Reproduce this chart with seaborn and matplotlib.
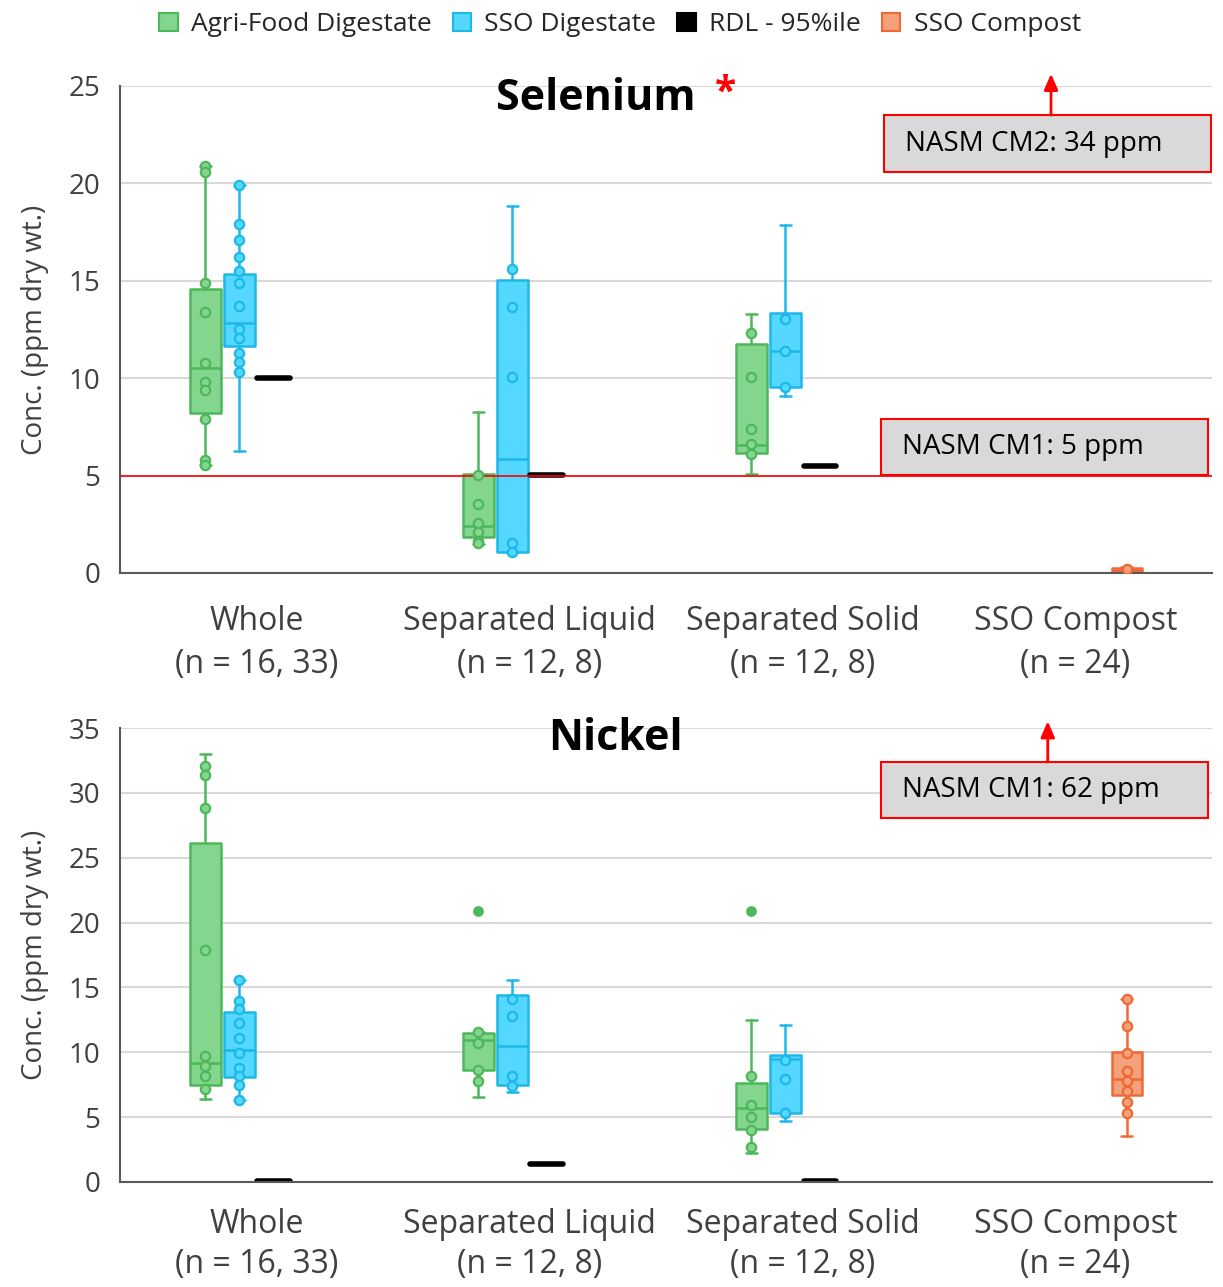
import numpy as np
import pandas as pd
import matplotlib
matplotlib.use("Agg")
import matplotlib.pyplot as plt
from matplotlib.patches import Patch, Rectangle
import seaborn as sns

categories = ["Whole\n(n = 16, 33)", "Separated Liquid\n(n = 12, 8)",
              "Separated Solid\n(n = 12, 8)", "SSO Compost\n(n = 24)"]
series = ["Agri-Food Digestate", "SSO Digestate", "RDL - 95%ile", "SSO Compost"]
fills = ["#84d68e", "#55d8ff", "#000000", "#f4a07b"]
edges = ["#4cb85a", "#1cb8e8", "#000000", "#ee6a35"]

# box stats per category: (whisker low, q1, median, q3, whisker high)
se_agri_box = [(5.55, 8.2, 10.5, 14.6, 20.9), (1.49, 1.87, 2.41, 5.07, 8.25),
               (5.07, 6.14, 6.57, 11.74, 13.28), None]
se_sso_box = [(6.26, 11.63, 12.85, 15.35, 19.9), (1.09, 1.09, 5.84, 15.04, 18.86),
              (9.1, 9.53, 11.4, 13.36, 17.88), None]
se_rdl = [10.0, 5.05, 5.5, None]
se_comp_box = [None, None, None, (0.05, 0.05, 0.15, 0.25, 0.3)]

se_agri_pts = [[20.9, 20.6, 14.9, 13.4, 10.8, 9.8, 9.4, 7.9, 5.8, 5.55],
               [5.03, 3.54, 2.55, 2.12, 1.66, 1.55],
               [12.34, 10.04, 7.41, 6.62, 6.09], []]
se_sso_pts = [[19.9, 17.9, 17.1, 16.2, 15.5, 14.9, 13.7, 12.5, 12.05, 11.3, 10.85, 10.33],
              [15.6, 13.67, 10.04, 1.56, 1.09],
              [13.05, 11.4, 9.56], []]
se_comp_pts = [[], [], [], [0.2]]

ni_agri_box = [(6.37, 7.48, 9.15, 26.1, 33.0), (6.53, 8.63, 10.95, 11.46, 11.6),
               (2.21, 4.07, 5.68, 7.67, 12.47), None]
ni_sso_box = [(6.32, 8.12, 10.14, 13.08, 15.6), (6.9, 7.48, 10.49, 14.42, 15.56),
              (4.73, 5.35, 9.46, 9.79, 12.1), None]
ni_rdl = [0.1, 1.4, 0.1, None]
ni_comp_box = [None, None, None, (3.58, 6.7, 7.93, 10.0, 14.1)]

ni_agri_pts = [[32.1, 31.4, 28.86, 17.9, 9.71, 8.94, 8.17, 7.14],
               [11.6, 10.74, 8.63, 7.81], [8.17, 5.94, 5.04, 4.01, 2.72], []]
ni_agri_out = [[], [20.9], [20.9], []]
ni_sso_pts = [[15.6, 13.96, 13.3, 12.28, 11.13, 9.97, 8.82, 8.17, 7.44, 6.32],
              [14.09, 12.8, 8.2, 7.4], [9.41, 7.93, 5.35], []]
ni_comp_pts = [[], [], [], [14.1, 12.03, 9.97, 8.52, 7.75, 7.05, 6.13, 5.3]]

sns.set_theme(style="white")
plt.rcParams["font.family"] = ["Open Sans", "DejaVu Sans"]

offsets = (np.arange(4) - 1.5) * 0.125


def draw_panel(ax, boxes, points, outliers, ymax, xpad=23, lsp=1.4):
    for j, blist in enumerate(boxes):
        stats, pos = [], []
        for i, b in enumerate(blist):
            if b is None:
                continue
            if j == 2:
                b = (b, b, b, b, b)
            stats.append(dict(whislo=b[0], q1=b[1], med=b[2], q3=b[3], whishi=b[4], fliers=[]))
            pos.append(i + offsets[j])
        if not stats:
            continue
        lw = 4.0 if j == 2 else 1.8
        ax.bxp(stats, positions=pos, widths=0.118 if j == 2 else 0.112, capwidths=0.04,
               patch_artist=True, showfliers=False, manage_ticks=False,
               boxprops=dict(facecolor=fills[j], edgecolor=edges[j], linewidth=lw,
                             joinstyle="round", capstyle="round"),
               whiskerprops=dict(color=edges[j], linewidth=1.8),
               capprops=dict(color=edges[j], linewidth=1.8 if j != 2 else 0),
               medianprops=dict(color=edges[j], linewidth=1.8))
    rows = []
    for j, plist in points.items():
        for i, vals in enumerate(plist):
            for v in vals:
                rows.append(dict(pos=i + offsets[j], value=v, series=series[j], kind="in"))
    for j, plist in outliers.items():
        for i, vals in enumerate(plist):
            for v in vals:
                rows.append(dict(pos=i + offsets[j], value=v, series=series[j], kind="out"))
    df = pd.DataFrame(rows)
    for j in range(4):
        sub = df[(df.series == series[j]) & (df.kind == "in")]
        if len(sub):
            sns.scatterplot(data=sub, x="pos", y="value", ax=ax, s=45, color=fills[j],
                            edgecolor=edges[j], linewidth=1.6, zorder=4, legend=False)
        sub = df[(df.series == series[j]) & (df.kind == "out")]
        if len(sub):
            sns.scatterplot(data=sub, x="pos", y="value", ax=ax, s=45, color=edges[j],
                            edgecolor=edges[j], linewidth=1.0, zorder=4, legend=False)

    ax.set_xlim(-0.5, 3.5)
    ax.set_ylim(0, ymax)
    ax.set_yticks(np.arange(0, ymax + 1, 5))
    ax.set_xticks(range(4))
    ax.set_xticklabels(categories, fontsize=23, color="#404040", linespacing=lsp)
    ax.tick_params(axis="x", length=0, pad=xpad)
    ax.tick_params(axis="y", length=0, pad=14, labelsize=20, labelcolor="#404040")
    ax.yaxis.grid(True, color="#d9d9d9", linewidth=1.5)
    ax.set_axisbelow(True)
    for s in ["top", "right"]:
        ax.spines[s].set_visible(False)
    for s in ["left", "bottom"]:
        ax.spines[s].set_color("#595959")
        ax.spines[s].set_linewidth(1.5)
    ax.set_xlabel("")
    ax.set_ylabel("Conc. (ppm dry wt.)", fontsize=20, color="#404040", labelpad=14)


def limit_box(ax, x0, y0, x1, y1, text, arrow_top=None):
    ax.add_patch(Rectangle((x0, y0), x1 - x0, y1 - y0, transform=ax.transAxes,
                           facecolor="#d9d9d9", edgecolor="red", linewidth=1.5,
                           zorder=6, clip_on=False))
    ax.text(x0 + 0.019, (y0 + y1) / 2, text, transform=ax.transAxes, fontsize=20,
            va="center", ha="left", color="black", zorder=7)
    if arrow_top is not None:
        xm = (x0 + x1) / 2 + 0.003
        ax.annotate("", xy=(xm, arrow_top), xytext=(xm, y1), xycoords="axes fraction",
                    textcoords="axes fraction", annotation_clip=False, zorder=7,
                    arrowprops=dict(arrowstyle="-|>,head_length=0.8,head_width=0.35",
                                    color="red", linewidth=2, shrinkA=0, shrinkB=0))


fig = plt.figure(figsize=(12.23, 12.87), dpi=100)
ax1 = fig.add_axes([0.0981, 0.5548, 0.893, 0.3784])
ax2 = fig.add_axes([0.0981, 0.0816, 0.893, 0.3527])

draw_panel(ax1, [se_agri_box, se_sso_box, se_rdl, se_comp_box],
           {0: se_agri_pts, 1: se_sso_pts, 3: se_comp_pts}, {}, 25)
ax1.axhline(5, color="red", linewidth=1.2, zorder=3)
limit_box(ax1, 0.700, 0.823, 0.999, 0.940, "NASM CM2: 34 ppm", arrow_top=1.025)
limit_box(ax1, 0.697, 0.201, 0.996, 0.316, "NASM CM1: 5 ppm")

draw_panel(ax2, [ni_agri_box, ni_sso_box, ni_rdl, ni_comp_box],
           {0: ni_agri_pts, 1: ni_sso_pts, 3: ni_comp_pts}, {0: ni_agri_out}, 35,
           xpad=19, lsp=1.28)
limit_box(ax2, 0.697, 0.802, 0.996, 0.925, "NASM CM1: 62 ppm", arrow_top=1.015)

fig.text(0.487, 1 - 98 / 1287, "Selenium", fontsize=31, fontweight="bold",
         ha="center", va="center", color="black")
fig.text(0.593, 1 - 93 / 1287, "*", fontsize=28, fontweight="bold",
         ha="center", va="center", color="red")
fig.text(0.503, 1 - 739 / 1287, "Nickel", fontsize=31, fontweight="bold",
         ha="center", va="center", color="black")

handles = [Patch(facecolor=fills[j], edgecolor=edges[j], linewidth=1.5) for j in range(4)]
fig.legend(handles, series, loc="upper center", bbox_to_anchor=(0.507, 1.009), ncol=4,
           frameon=False, fontsize=19, handlelength=0.7, handleheight=0.7,
           handletextpad=0.5, columnspacing=0.8, labelcolor="#262626")

fig.savefig("out.png", dpi=100)
